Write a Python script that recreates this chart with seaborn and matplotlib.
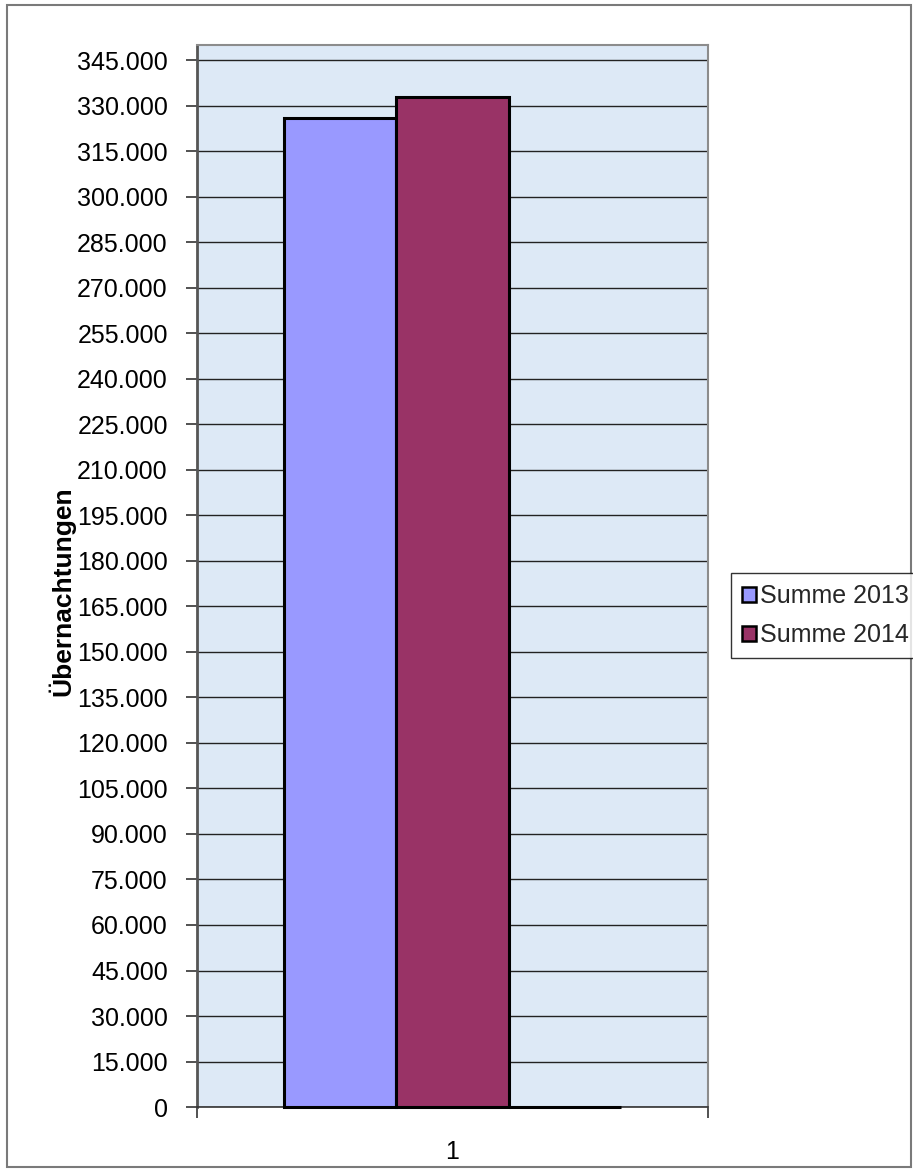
import matplotlib
matplotlib.use("Agg")
import matplotlib.pyplot as plt
from matplotlib.patches import Patch, Rectangle
from matplotlib.ticker import FuncFormatter, MultipleLocator, FixedLocator
import pandas as pd
import seaborn as sns

# ── Data ──────────────────────────────────────────────────────────
categories = ["1", "1", "1"]
series = ["Summe 2013", "Summe 2014", "(leer)"]
values = [326000, 333000, 0]
legend_series = ["Summe 2013", "Summe 2014"]
colors = ["#9999FF", "#993366", "#FFFFFF"]

# ── Style ─────────────────────────────────────────────────────────
sns.set_theme(style="white")
plt.rcParams["font.family"] = ["Liberation Sans", "DejaVu Sans"]

df = pd.DataFrame({"Kategorie": categories, "Serie": series, "Wert": values})

fig = plt.figure(figsize=(9.13, 11.7), dpi=100)
fig.patch.set_facecolor("white")
ax = fig.add_axes([0.2158, 0.0538, 0.5597, 0.9077])
ax.set_facecolor("#dde9f6")

sns.barplot(data=df, x="Kategorie", y="Wert", hue="Serie",
            palette=colors, width=0.66, edgecolor="black", linewidth=2.2,
            saturation=1, legend=False, ax=ax, zorder=3)
for bar in ax.patches:
    bar.set_clip_on(False)

ax.set_xlim(-0.5, 0.5)
ax.set_ylim(0, 350000)

# y axis: ticks every 15.000, German thousands separator
ax.yaxis.set_major_locator(MultipleLocator(15000))
ax.yaxis.set_major_formatter(
    FuncFormatter(lambda v, p: f"{v:,.0f}".replace(",", ".")))
ax.tick_params(axis="y", which="major", left=True, length=8, width=1.2,
               color="#333333", pad=13, labelsize=18, labelcolor="black")
ax.grid(axis="y", color="#222222", linewidth=1.0, zorder=1)
ax.set_axisbelow(True)

# x axis: label in the middle, tick marks on category borders
ax.xaxis.set_major_locator(FixedLocator([0]))
ax.set_xticklabels(["1"])
ax.xaxis.set_minor_locator(FixedLocator([-0.5, 0.5]))
ax.tick_params(axis="x", which="major", bottom=True, length=0, pad=24,
               labelsize=18, labelcolor="black")
ax.tick_params(axis="x", which="minor", bottom=True, length=8, width=1.2,
               color="#333333")

ax.set_xlabel("")
ax.set_ylabel("Übernachtungen", fontsize=19, fontweight="bold", color="black")
ax.yaxis.set_label_coords(-0.238, 0.486)

for side in ["top", "right"]:
    ax.spines[side].set_color("#8c8c8c")
    ax.spines[side].set_linewidth(1.5)
ax.spines["left"].set_color("#555555")
ax.spines["left"].set_linewidth(2.0)
ax.spines["bottom"].set_color("#333333")
ax.spines["bottom"].set_linewidth(1.2)

# ── Legend ────────────────────────────────────────────────────────
handles = [Patch(facecolor=c, edgecolor="black", linewidth=1.8, label=s)
           for s, c in zip(legend_series, colors)]
leg = fig.legend(handles=handles, loc="upper left",
                 bbox_to_anchor=(0.8006, 0.5103), borderaxespad=0,
                 fontsize=18, frameon=True, fancybox=False,
                 handlelength=0.55, handleheight=0.55, handletextpad=0.15,
                 labelspacing=0.6, borderpad=0.45)
leg.get_frame().set_edgecolor("black")
leg.get_frame().set_linewidth(1.0)

# ── Outer chart border ────────────────────────────────────────────
fig.patches.append(Rectangle((7 / 913, 1 - 1167 / 1170), 904 / 913,
                             1162 / 1170, transform=fig.transFigure,
                             fill=False, edgecolor="#7a7a7a", linewidth=1.5))

fig.savefig("out.png", dpi=100)
plt.close(fig)
